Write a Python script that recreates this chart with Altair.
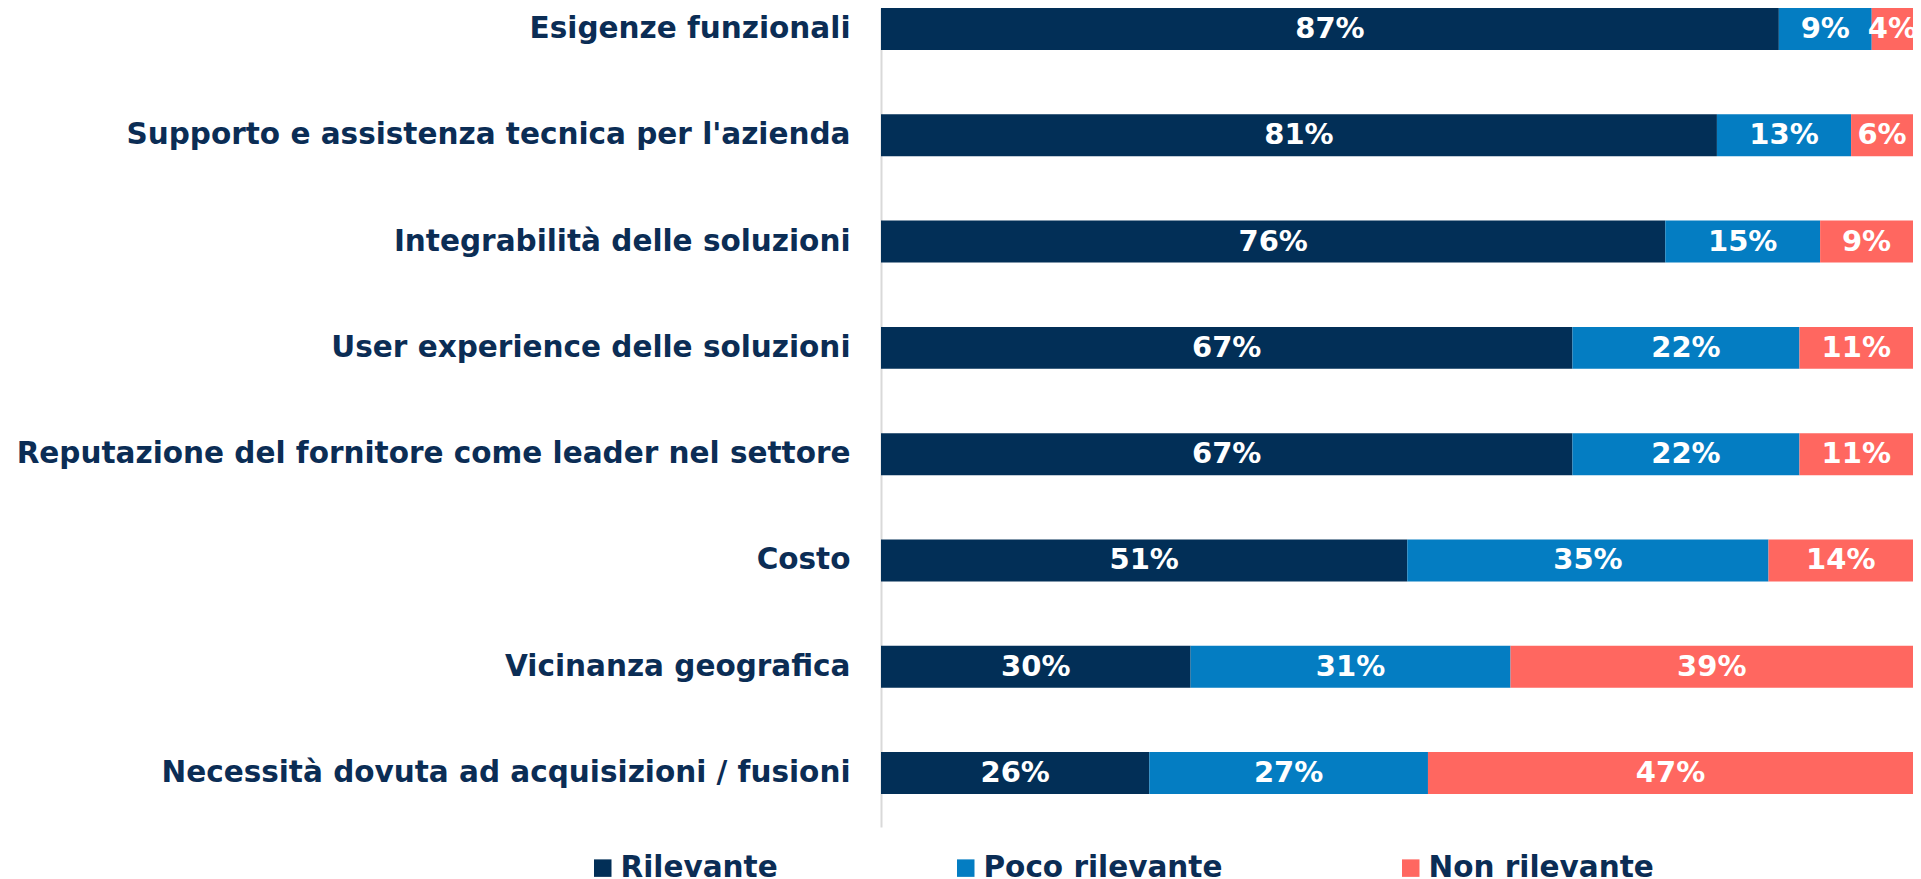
import altair as alt
import pandas as pd

categories = [
    "Esigenze funzionali\u00a0",
    "Supporto e assistenza tecnica per l'azienda",
    "Integrabilità delle soluzioni\u00a0",
    "User experience delle soluzioni\u00a0",
    "Reputazione del fornitore come leader nel settore",
    "Costo",
    "Vicinanza geografica",
    "Necessità dovuta ad acquisizioni / fusioni",
]
rilevante = [87, 81, 76, 67, 67, 51, 30, 26]
poco_rilevante = [9, 13, 15, 22, 22, 35, 31, 27]
non_rilevante = [4, 6, 9, 11, 11, 14, 39, 47]
series = ["Rilevante", "Poco rilevante", "Non rilevante"]
colors = ["#022f57", "#047dc2", "#ff6760"]

rows = []
for i, cat in enumerate(categories):
    for j, (name, vals) in enumerate(zip(series, [rilevante, poco_rilevante, non_rilevante])):
        rows.append({"category": cat, "series": name, "order": j, "value": vals[i],
                     "label": f"{vals[i]}%"})
df = pd.DataFrame(rows)

FONT = "DejaVu Sans"
NAVY = "#0b2d55"

base = alt.Chart(df).transform_stack(
    stack="value", groupby=["category"], as_=["x0", "x1"],
    sort=[alt.SortField("order", order="ascending")]
).transform_calculate(mid="(datum.x0 + datum.x1) / 2")

yenc = alt.Y(
    "category:N", sort=categories, title=None,
    scale=alt.Scale(paddingInner=0.605, paddingOuter=0.155, align=0),
    axis=alt.Axis(ticks=False, labelPadding=31, labelFontSize=29.5, labelFont=FONT,
                  labelFontWeight="bold", labelColor=NAVY, labelLimit=1200,
                  domainColor="#d9d9d9", domainWidth=2, grid=False),
)
xscale = alt.Scale(domain=[0, 100], nice=False, zero=True)

bars = base.mark_bar().encode(
    x=alt.X("x0:Q", scale=xscale, axis=None),
    x2="x1:Q",
    y=yenc,
    color=alt.Color(
        "series:N", scale=alt.Scale(domain=series, range=colors),
        legend=alt.Legend(
            title=None, orient="none", legendX=-293, legendY=845, direction="horizontal",
            symbolType="square", symbolSize=306, symbolStrokeWidth=0, symbolOpacity=1,
            labelFontSize=29.5, labelFont=FONT, labelFontWeight="bold", labelColor=NAVY,
            labelOffset=3, columnPadding=173, padding=0, labelLimit=1000,
        ),
    ),
)

texts = base.mark_text(color="white", fontSize=29, font=FONT, fontWeight="bold",
                       baseline="middle", align="center").encode(
    x=alt.X("mid:Q", scale=xscale, axis=None),
    y=alt.Y("category:N", sort=categories),
    text="label:N",
)

chart = alt.layer(bars, texts).properties(
    width=1032, height=819,
    autosize=alt.AutoSizeParams(type="none"),
    padding={"left": 873, "top": 0, "right": 0, "bottom": 60},
    background="white",
).configure_view(stroke=None)

chart.save("out.html", embed_options={"renderer": "svg", "actions": False})
